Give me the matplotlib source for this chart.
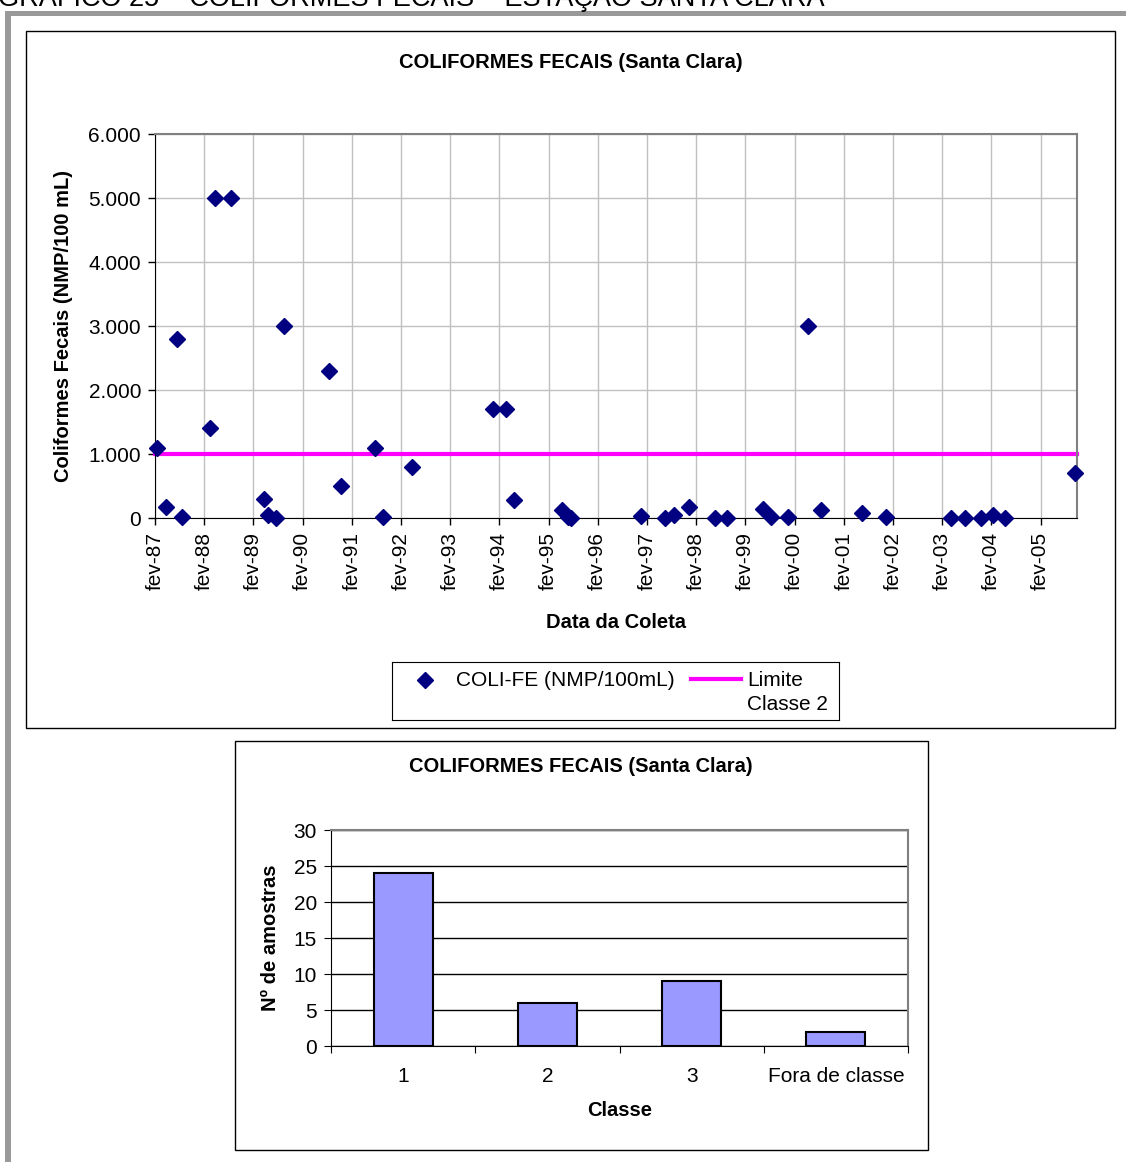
import matplotlib
matplotlib.use("Agg")
import matplotlib.pyplot as plt
import matplotlib.dates as mdates
from matplotlib.patches import Rectangle
from matplotlib.ticker import FuncFormatter, MultipleLocator, FixedLocator
from datetime import date

W, H = 1126, 1162

# sample dates and fecal coliform values (NMP/100 mL)
sample_dates = [
    "1987-02-14", "1987-04-21", "1987-07-18", "1987-08-24", "1988-03-19",
    "1988-04-18", "1988-08-18", "1989-04-19", "1989-05-18", "1989-07-19",
    "1989-09-19", "1990-08-17", "1990-11-16", "1991-07-22", "1991-09-19",
    "1992-04-21", "1993-12-12", "1994-03-20", "1994-05-22", "1995-05-14",
    "1995-06-27", "1995-07-20", "1996-12-18", "1997-06-16", "1997-08-21",
    "1997-12-12", "1998-06-20", "1998-09-15", "1999-06-12", "1999-08-13",
    "1999-12-16", "2000-05-13", "2000-08-12", "2001-06-16", "2001-12-12",
    "2003-04-11", "2003-07-19", "2003-11-13", "2004-02-16", "2004-05-13",
    "2005-10-15",
]
coli_fe = [
    1100, 170, 2800, 20, 1400,
    5000, 5000, 300, 50, 2,
    3000, 2300, 500, 1100, 10,
    800, 1700, 1700, 280, 130,
    8, 2, 30, 2, 50,
    170, 2, 2, 140, 8,
    22, 3000, 130, 80, 10,
    2, 2, 4, 50, 2,
    700,
]
limite_classe2 = 1000
x_start, x_end = "1987-02-01", "2005-10-29"

classes = ["1", "2", "3", "Fora de classe"]
n_amostras = [24, 6, 9, 2]

NAVY = "#000080"
MAGENTA = "#ff00ff"
BAR = "#9999ff"
GRID = "#c0c0c0"

plt.rcParams["font.family"] = ["Liberation Sans", "DejaVu Sans"]


def rect(l, t, r, b):
    return [l / W, 1 - b / H, (r - l) / W, (b - t) / H]


def fx(px):
    return px / W


def fy(py):
    return 1 - py / H


def to_date(s):
    y, m, d = map(int, s.split("-"))
    return date(y, m, d)


fig = plt.figure(figsize=(W / 100, H / 100), dpi=100)

# page decoration: cut-off caption and gray frame
fig.text(fx(-2), fy(6), "GRÁFICO 25 – COLIFORMES FECAIS – ESTAÇÃO SANTA CLARA",
         fontsize=19.5, ha="left", va="baseline", color="black")
fig.add_artist(Rectangle((fx(5), fy(16)), fx(W) - fx(5), fy(11) - fy(16),
                         transform=fig.transFigure, color="#999999", lw=0))
fig.add_artist(Rectangle((fx(5), fy(H)), fx(11) - fx(5), fy(11) - fy(H),
                         transform=fig.transFigure, color="#999999", lw=0))

# outer chart boxes
for l, t, r, b in [(26, 31, 1115, 728), (235, 741, 928, 1150)]:
    fig.add_artist(Rectangle((fx(l), fy(b)), fx(r) - fx(l), fy(t) - fy(b),
                             transform=fig.transFigure, fill=False,
                             edgecolor="black", lw=1))

# ---- scatter chart ----
ax = fig.add_axes(rect(155, 134, 1077, 518))
xd = [to_date(s) for s in sample_dates]
x0, x1 = to_date(x_start), to_date(x_end)
ax.plot([x0, x1], [limite_classe2, limite_classe2], color=MAGENTA, lw=3,
        clip_on=False, zorder=2, solid_capstyle="projecting")
ax.plot(xd, coli_fe, ls="none", marker="D", ms=8, color=NAVY,
        clip_on=False, zorder=3)
ax.set_xlim(x0, x1)
ax.set_ylim(0, 6000)
ax.yaxis.set_major_locator(MultipleLocator(1000))
ax.yaxis.set_major_formatter(FuncFormatter(lambda v, p: f"{v:,.0f}".replace(",", ".")))
ax.xaxis.set_major_locator(mdates.YearLocator(1, month=2, day=1))
ax.xaxis.set_major_formatter(FuncFormatter(
    lambda v, p: "fev-" + mdates.num2date(v).strftime("%y")))
ax.grid(True, color=GRID, lw=1)
ax.set_axisbelow(True)
ax.tick_params(direction="out", length=5, width=1, labelsize=15, pad=5)
ax.tick_params(axis="x", labelrotation=90)
for s in ("top", "right"):
    ax.spines[s].set_color("#808080")
    ax.spines[s].set_linewidth(1.5)
for s in ("left", "bottom"):
    ax.spines[s].set_color("black")

fig.text(fx(571), fy(63), "COLIFORMES FECAIS (Santa Clara)", fontsize=14.5,
         fontweight="bold", ha="center", va="center")
fig.text(fx(64), fy(326), "Coliformes Fecais (NMP/100 mL)", fontsize=14.5,
         fontweight="bold", ha="center", va="center", rotation=90)
fig.text(fx(616), fy(623), "Data da Coleta", fontsize=14.5,
         fontweight="bold", ha="center", va="center")

# legend box
lax = fig.add_axes(rect(392, 662, 839, 720))
lax.set_xlim(392, 839)
lax.set_ylim(720, 662)
lax.set_xticks([])
lax.set_yticks([])
lax.plot([425], [680], ls="none", marker="D", ms=8, color=NAVY)
lax.text(456, 680, "COLI-FE (NMP/100mL)", fontsize=15, va="center", ha="left")
lax.plot([691, 741], [679, 679], color=MAGENTA, lw=3)
lax.text(747, 680, "Limite", fontsize=15, va="center", ha="left")
lax.text(747, 704, "Classe 2", fontsize=15, va="center", ha="left")

# ---- bar chart ----
bx = fig.add_axes(rect(331, 830, 908, 1046))
pos = list(range(len(classes)))
bx.bar(pos, n_amostras, width=0.41, color=BAR, edgecolor="black", lw=1.5, zorder=3)
bx.set_xlim(-0.5, len(classes) - 0.5)
bx.set_ylim(0, 30)
bx.yaxis.set_major_locator(MultipleLocator(5))
bx.yaxis.grid(True, color="black", lw=1)
bx.set_axisbelow(True)
bx.xaxis.set_major_locator(FixedLocator([p - 0.5 for p in pos] + [pos[-1] + 0.5]))
bx.xaxis.set_major_formatter(FuncFormatter(lambda v, p: ""))
bx.xaxis.set_minor_locator(FixedLocator(pos))
bx.set_xticklabels(classes, minor=True)
bx.tick_params(axis="x", which="major", direction="out", length=5)
bx.tick_params(axis="x", which="minor", length=0, pad=15, labelsize=15)
bx.tick_params(axis="y", direction="out", length=5, labelsize=15, pad=5)
for s in ("top", "right"):
    bx.spines[s].set_color("#808080")
    bx.spines[s].set_linewidth(1.5)

fig.text(fx(581), fy(766), "COLIFORMES FECAIS (Santa Clara)", fontsize=14.5,
         fontweight="bold", ha="center", va="center")
fig.text(fx(270), fy(938), "Nº de amostras", fontsize=14.5,
         fontweight="bold", ha="center", va="center", rotation=90)
fig.text(fx(620), fy(1111), "Classe", fontsize=14.5,
         fontweight="bold", ha="center", va="center")

fig.savefig("out.png", dpi=100)
